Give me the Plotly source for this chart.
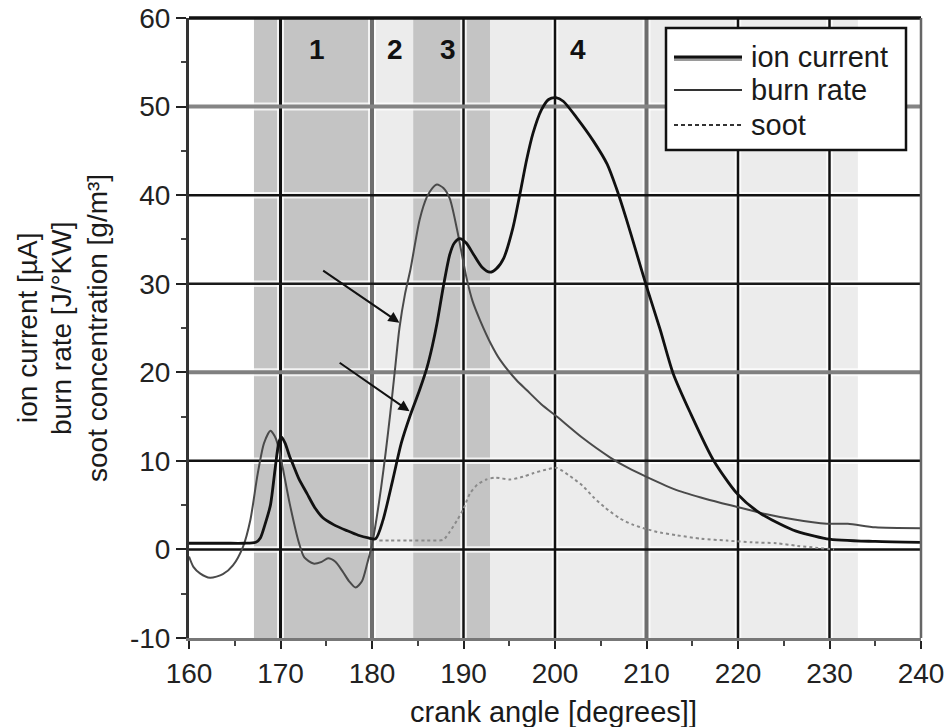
import plotly.graph_objects as go

# ---- data -------------------------------------------------------------
ion_x = [160, 162, 164, 166, 167.3, 167.8, 168.3, 168.9, 169.4, 169.8, 170.1, 170.5,
         171.0, 171.4, 172.0, 172.9, 173.7, 174.6, 175.8, 177.3, 178.5, 179.6, 180.4,
         181.2, 182.3, 183.2, 184.2, 185.2, 186.0, 186.6, 187.1, 187.8, 188.5, 189.0,
         189.6, 190.3, 191.1, 192.0, 192.9, 193.6, 194.4, 195.4, 196.2, 196.9, 197.6,
         198.5, 199.3, 200.1, 200.9, 202.4, 204.2, 205.7, 206.7, 207.8, 208.9, 210.0,
         211.5, 212.9, 214.8, 217.3, 219.9, 222.4, 226.0, 229.7, 235.0, 240.0]
ion_y = [0.7, 0.7, 0.7, 0.7, 0.8, 1.3, 2.8, 5.0, 9.0, 12.0, 12.7, 12.0,
         10.5, 9.5, 8.0, 6.3, 4.8, 3.6, 2.8, 2.1, 1.6, 1.3, 1.2,
         3.3, 8.0, 12.0, 15.2, 18.0, 20.5, 23.0, 25.5, 29.7, 33.3, 34.6,
         35.1, 34.6, 33.3, 31.9, 31.3, 31.7, 32.9, 36.3, 40.3, 44.0, 47.0,
         49.6, 50.8, 51.0, 50.6, 48.7, 46.1, 43.5, 40.8, 37.3, 33.5, 29.7,
         24.8, 19.9, 15.4, 10.1, 6.3, 4.1, 2.2, 1.2, 0.9, 0.8]

burn_x = [160, 160.5, 161.2, 162.3, 163.7, 164.8, 165.9, 166.7, 167.5, 168.2, 168.9,
          169.5, 170.0, 171.0, 172.0, 172.6, 173.6, 174.5, 175.2, 176.0, 176.8, 177.5,
          178.2, 178.9, 179.5, 180.0, 180.5, 181.0, 181.5, 182.0, 182.5, 183.0, 183.6,
          184.2, 185.2, 186.0, 186.6, 187.1, 187.8, 188.5, 189.3, 190.3, 191.0, 191.8,
          193.0, 194.0, 195.8, 196.9, 198.5, 200.2, 203.0, 206.0, 208.0, 210.0, 213.3,
          216.5, 219.9, 223.0, 226.0, 229.7, 232.0, 235.0, 240.0]
burn_y = [-0.8, -2.0, -2.7, -3.2, -2.8, -1.8, 0.3, 3.3, 8.5, 12.0, 13.4,
          12.5, 10.5, 5.2, 0.8, -0.9, -1.6, -1.4, -1.0, -1.4, -2.5, -3.6,
          -4.3, -3.6, -1.5, 0.5, 3.5, 7.0, 11.0, 15.4, 20.2, 25.0, 28.8,
          31.6, 37.2, 39.8, 40.8, 41.2, 40.8, 39.6, 36.1, 30.8, 28.0, 25.9,
          23.2, 21.4, 19.1, 18.0, 16.4, 15.0, 12.6, 10.4, 9.2, 8.2, 6.7,
          5.7, 4.8, 4.0, 3.4, 2.9, 2.9, 2.5, 2.4]

soot_x = [180.8, 182, 184, 186, 187.8, 188.5, 189.3, 190.0, 190.7, 191.5, 192.5,
          193.5, 195.1, 196.5, 197.6, 199.0, 200.2, 201.6, 203.0, 204.2, 205.5,
          207.1, 208.5, 210.0, 211.5, 213.3, 216.0, 218.8, 221.5, 224.2, 226.5,
          228.5, 230.5]
soot_y = [1.0, 1.0, 1.0, 1.0, 1.1, 2.0, 3.3, 4.6, 6.3, 7.3, 7.9,
          8.1, 7.9, 8.2, 8.6, 9.0, 9.2, 8.3, 7.2, 5.9, 4.7,
          3.5, 2.8, 2.3, 1.9, 1.6, 1.2, 1.0, 0.8, 0.7, 0.4,
          0.2, 0.0]

# combustion phases (crank angle limits) and their labels
phase_edges = [167.1, 180.0, 184.5, 192.9, 233.1]
phase_shades = ["#c4c4c4", "#ececec", "#c4c4c4", "#ececec"]
phase_labels = ["1", "2", "3", "4"]
phase_label_x = [174.0, 182.5, 188.3, 202.5]
phase_label_y = 56.4

# axes
x_range = [160, 240]
y_range = [-10, 60]
x_ticks = [160, 170, 180, 190, 200, 210, 220, 230, 240]
y_ticks = [-10, 0, 10, 20, 30, 40, 50, 60]

# grid
v_grid = [170, 180, 190, 200, 210, 220, 230]
v_grid_color = ["#111111", "#6e6e6e", "#111111", "#111111", "#6e6e6e", "#111111", "#111111"]
v_grid_width = [3, 4, 2.5, 2.5, 4, 2.5, 2.5]
h_grid = [0, 10, 20, 30, 40, 50]
h_grid_color = ["#111111", "#111111", "#808080", "#1a1a1a", "#111111", "#858585"]
h_grid_width = [2.5, 2.5, 4, 2.5, 2.5, 4]

# arrows: (tail x, tail y, head x, head y)
arrows = [(174.5, 31.6, 183.0, 25.6),
          (176.3, 21.2, 184.1, 15.6)]

series_names = ["ion current", "burn rate", "soot"]
y_title_lines = ["ion current [µA]", "burn rate [J/°KW]", "soot concentration [g/m³]"]
x_title = "crank angle [degrees]]"

# ---- layout geometry ----------------------------------------------------
W, H = 948, 727
ML, MR, MT, MB = 189, 27, 18, 89
PW, PH = W - ML - MR, H - MT - MB
FONT = "Arial, Liberation Sans, sans-serif"


def px_x(px):
    return (px - ML) / PW


def px_y(py):
    return (H - MB - py) / PH


fig = go.Figure()

fig.add_trace(go.Scatter(x=burn_x, y=burn_y, mode="lines", name=series_names[1],
                         line=dict(color="#4a4a4a", width=2, shape="spline", smoothing=0.7),
                         showlegend=False))
fig.add_trace(go.Scatter(x=soot_x, y=soot_y, mode="lines", name=series_names[2],
                         line=dict(color="#8a8a8a", width=2, dash="3px,3px",
                                   shape="spline", smoothing=0.7),
                         showlegend=False))
fig.add_trace(go.Scatter(x=ion_x, y=ion_y, mode="lines", name=series_names[0],
                         line=dict(color="#111111", width=2.8, shape="spline", smoothing=0.7),
                         showlegend=False))

shapes = []
# shaded phases
for i, shade in enumerate(phase_shades):
    shapes.append(dict(type="rect", xref="x", yref="paper", x0=phase_edges[i],
                       x1=phase_edges[i + 1], y0=0, y1=1, fillcolor=shade,
                       line=dict(width=0), layer="below"))
# light halos around grid lines
for gx, gw in zip(v_grid, v_grid_width):
    shapes.append(dict(type="line", xref="x", yref="paper", x0=gx, x1=gx, y0=0, y1=1,
                       line=dict(color="rgba(255,255,255,0.8)", width=gw + 4), layer="below"))
for gy, gw in zip(h_grid, h_grid_width):
    shapes.append(dict(type="line", xref="paper", yref="y", x0=0, x1=1, y0=gy, y1=gy,
                       line=dict(color="rgba(255,255,255,0.8)", width=gw + 4), layer="below"))
# grid lines
for gx, gc, gw in zip(v_grid, v_grid_color, v_grid_width):
    shapes.append(dict(type="line", xref="x", yref="paper", x0=gx, x1=gx, y0=0, y1=1,
                       line=dict(color=gc, width=gw), layer="below"))
for gy, gc, gw in zip(h_grid, h_grid_color, h_grid_width):
    shapes.append(dict(type="line", xref="paper", yref="y", x0=0, x1=1, y0=gy, y1=gy,
                       line=dict(color=gc, width=gw), layer="below"))
# top and right frame
shapes.append(dict(type="line", xref="paper", yref="paper", x0=0, x1=1, y0=1, y1=1,
                   line=dict(color="#111111", width=3.5)))
shapes.append(dict(type="line", xref="paper", yref="paper", x0=1, x1=1, y0=0, y1=1,
                   line=dict(color="#666666", width=2.5)))

# legend box
leg_left, leg_right, leg_top, leg_bottom = 666, 906, 28, 150
shapes.append(dict(type="rect", xref="paper", yref="paper",
                   x0=px_x(leg_left), x1=px_x(leg_right), y0=px_y(leg_bottom), y1=px_y(leg_top),
                   fillcolor="white", line=dict(color="#111111", width=2.5), layer="above"))
row_y = [57, 90, 125]
sx0, sx1 = 674, 742
# ion current sample: black stroke over a grey shadow
shapes.append(dict(type="line", xref="paper", yref="paper", x0=px_x(sx0), x1=px_x(sx1),
                   y0=px_y(row_y[0] + 2.5), y1=px_y(row_y[0] + 2.5),
                   line=dict(color="#9a9a9a", width=3), layer="above"))
shapes.append(dict(type="line", xref="paper", yref="paper", x0=px_x(sx0), x1=px_x(sx1),
                   y0=px_y(row_y[0]), y1=px_y(row_y[0]),
                   line=dict(color="#111111", width=3), layer="above"))
shapes.append(dict(type="line", xref="paper", yref="paper", x0=px_x(sx0), x1=px_x(sx1),
                   y0=px_y(row_y[1]), y1=px_y(row_y[1]),
                   line=dict(color="#333333", width=2.2), layer="above"))
shapes.append(dict(type="line", xref="paper", yref="paper", x0=px_x(sx0), x1=px_x(sx1),
                   y0=px_y(row_y[2]), y1=px_y(row_y[2]),
                   line=dict(color="#333333", width=2.2, dash="4px,3px"), layer="above"))

annotations = []
for name, ry in zip(series_names, row_y):
    annotations.append(dict(xref="paper", yref="paper", x=px_x(749), y=px_y(ry),
                            xanchor="left", yanchor="middle", text=name, showarrow=False,
                            font=dict(family=FONT, size=29, color="#1a1a1a")))
# phase labels
for lab, lx in zip(phase_labels, phase_label_x):
    annotations.append(dict(xref="x", yref="y", x=lx, y=phase_label_y, text="<b>%s</b>" % lab,
                            showarrow=False, xanchor="center", yanchor="middle",
                            font=dict(family=FONT, size=28, color="#111111")))
# arrows
for tx, ty, hx, hy in arrows:
    annotations.append(dict(xref="x", yref="y", axref="x", ayref="y", x=hx, y=hy, ax=tx, ay=ty,
                            text="", showarrow=True, arrowhead=2, arrowsize=1.1,
                            arrowwidth=2, arrowcolor="#111111"))
# stacked y-axis title lines
for line_text, cx in zip(y_title_lines, [27, 61, 97]):
    annotations.append(dict(xref="paper", yref="paper", x=px_x(cx), y=px_y(328),
                            xanchor="center", yanchor="middle", textangle=-90,
                            text=line_text, showarrow=False,
                            font=dict(family=FONT, size=28, color="#1a1a1a")))
# x-axis title
annotations.append(dict(xref="paper", yref="paper", x=px_x(553), y=px_y(712),
                        xanchor="center", yanchor="middle", text=x_title, showarrow=False,
                        font=dict(family=FONT, size=29, color="#1a1a1a")))

fig.update_layout(
    width=W, height=H,
    margin=dict(l=ML, r=MR, t=MT, b=MB, pad=0, autoexpand=False),
    paper_bgcolor="white", plot_bgcolor="white",
    showlegend=False,
    shapes=shapes, annotations=annotations,
    xaxis=dict(range=x_range, tickmode="array", tickvals=x_ticks, automargin=False,
               ticktext=[str(v) for v in x_ticks], showgrid=False, zeroline=False,
               showline=True, linecolor="#777777", linewidth=3,
               ticks="outside", ticklen=8, tickwidth=2, tickcolor="#222222",
               minor=dict(dtick=5, tick0=160, ticks="outside", ticklen=5,
                          tickwidth=2, tickcolor="#444444", showgrid=False),
               tickfont=dict(family=FONT, size=28, color="#222222")),
    yaxis=dict(range=y_range, tickmode="array", tickvals=y_ticks, automargin=False,
               ticktext=[str(v) for v in y_ticks], showgrid=False, zeroline=False,
               showline=True, linecolor="#333333", linewidth=3,
               ticks="outside", ticklen=10, tickwidth=2, tickcolor="#222222",
               minor=dict(dtick=5, tick0=-10, ticks="outside", ticklen=5,
                          tickwidth=2, tickcolor="#444444", showgrid=False),
               tickfont=dict(family=FONT, size=28, color="#222222")),
)

# the page body gets no default margin so the figure sits at the window origin
fig.write_html("out.html",
               post_script="document.body.style.margin='0';document.body.style.overflow='hidden';")
